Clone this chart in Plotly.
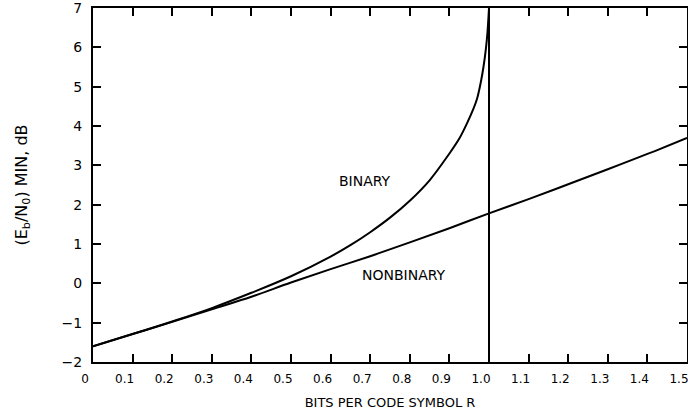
import plotly.graph_objects as go

# Nonbinary curve
r_nonbin = [0.0, 0.1, 0.2, 0.3, 0.4, 0.5, 0.6, 0.7, 0.8, 0.9, 1.0, 1.1, 1.2, 1.3, 1.4, 1.5]
eb_nonbin = [-1.6, -1.29, -0.98, -0.66, -0.34, 0.02, 0.36, 0.69, 1.04, 1.40, 1.78, 2.14, 2.52, 2.90, 3.29, 3.70]

# Binary curve
r_bin = [0.0, 0.1, 0.2, 0.3, 0.4, 0.5, 0.6, 0.65, 0.7, 0.75, 0.8, 0.85, 0.9, 0.925, 0.945,
         0.96, 0.97, 0.98, 0.986, 0.992, 0.996, 1.0]
eb_bin = [-1.6, -1.29, -0.97, -0.63, -0.24, 0.18, 0.68, 0.97, 1.3, 1.67, 2.1, 2.62, 3.3, 3.68, 4.08,
          4.42, 4.7, 5.15, 5.5, 5.95, 6.36, 7.0]

# Vertical limit line at R = 1
r_limit = [1.0, 1.0]
eb_limit = [-2, 7]

x_ticks = [0, 0.1, 0.2, 0.3, 0.4, 0.5, 0.6, 0.7, 0.8, 0.9, 1.0, 1.1, 1.2, 1.3, 1.4, 1.5]
x_labels = ["0", "0.1", "0.2", "0.3", "0.4", "0.5", "0.6", "0.7", "0.8", "0.9", "1.0", "1.1", "1.2", "1.3", "1.4", "1.5"]
y_ticks = [-2, -1, 0, 1, 2, 3, 4, 5, 6, 7]

font_family = "DejaVu Sans, sans-serif"

fig = go.Figure()
line_style = dict(color="black", width=2, shape="spline", smoothing=1.0)
fig.add_trace(go.Scatter(x=r_nonbin, y=eb_nonbin, mode="lines", line=line_style, showlegend=False))
fig.add_trace(go.Scatter(x=r_bin, y=eb_bin, mode="lines", line=line_style, showlegend=False))
fig.add_trace(go.Scatter(x=r_limit, y=eb_limit, mode="lines", line=dict(color="black", width=2), showlegend=False))

fig.add_annotation(x=0.687, y=2.6, text="BINARY", showarrow=False,
                   font=dict(size=14, color="black", family=font_family))
fig.add_annotation(x=0.785, y=0.21, text="NONBINARY", showarrow=False,
                   font=dict(size=14, color="black", family=font_family))

axis_common = dict(showline=True, linecolor="black", linewidth=2, mirror="ticks",
                   ticks="inside", ticklen=8, tickwidth=2, tickcolor="black",
                   showgrid=False, zeroline=False, ticklabeloverflow="allow")

fig.update_xaxes(range=[0, 1.5], tickvals=x_ticks, ticktext=x_labels,
                 tickfont=dict(size=12, color="black", family=font_family),
                 ticklabelstandoff=5, ticklabelshift=-8,
                 title=dict(text="BITS PER CODE SYMBOL R", standoff=12,
                            font=dict(size=13, color="black", family=font_family)),
                 **axis_common)
fig.update_yaxes(range=[-2, 7], tickvals=y_ticks,
                 tickfont=dict(size=14, color="black", family=font_family),
                 ticklabelstandoff=6,
                 title=dict(text="(E<sub>b</sub>/N<sub>0</sub>) MIN, dB", standoff=30,
                            font=dict(size=16, color="black", family=font_family)),
                 **axis_common)

fig.update_layout(width=688, height=417, margin=dict(l=93, r=1, t=8, b=55, autoexpand=False),
                  paper_bgcolor="white", plot_bgcolor="white",
                  font=dict(family=font_family, color="black"))

fig.write_html("out.html", config={"displayModeBar": False},
               post_script="document.body.style.margin='0';")
